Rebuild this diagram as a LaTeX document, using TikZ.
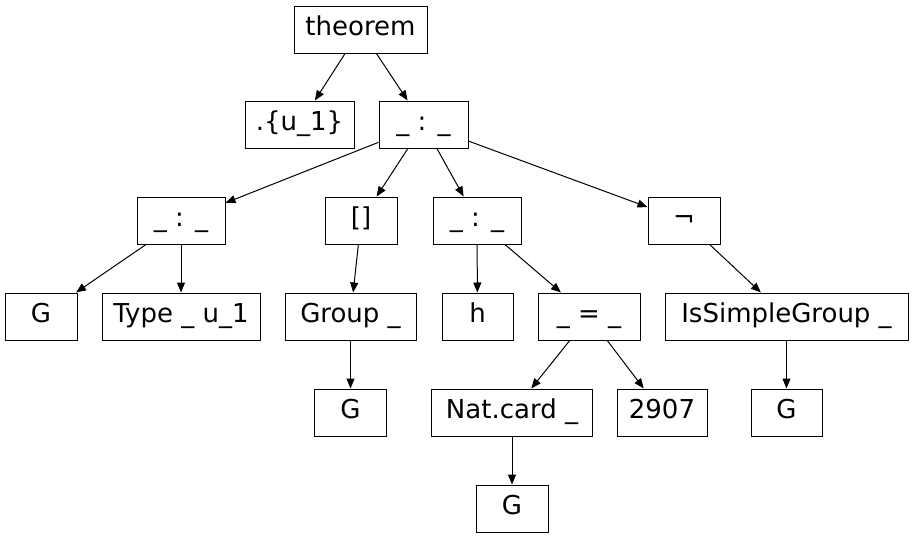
\documentclass[tikz,border=0pt]{standalone}
\usepackage{fontspec}
\setmainfont{DejaVu Sans}
\usetikzlibrary{arrows.meta}

\tikzset{box/.style={draw, inner sep=0pt, minimum height=35.25pt, minimum width=#1*0.75pt, text height=14pt, text depth=5.5pt, font=\fontsize{19.5}{23}\selectfont}}

\begin{document}
\begin{tikzpicture}[x=0.75pt,y=-0.75pt,line width=0.75pt]
\useasboundingbox (0,0) rectangle (914,539);

\node[box=133] (thm) at (360.5,29.5) {theorem};

\node[box=109] (univ) at (299.5,124.5) {.\{u\_1\}};
\node[box=89] (top) at (423.5,124.5) {\_ : \_};

\node[box=88] (left) at (181,220.5) {\_ : \_};
\node[box=72] (brk) at (361,220.5) {[]};
\node[box=88] (mid) at (477,220.5) {\_ : \_};
\node[box=72] (neg) at (684,220.5) {¬};

\node[box=72] (g1) at (41,316.5) {G};
\node[box=158] (type) at (181,316.5) {Type \_ u\_1};
\node[box=131] (grp) at (350.5,316.5) {Group \_};
\node[box=71] (h) at (477.5,316.5) {h};
\node[box=102] (eq) at (589,316.5) {\_ = \_};
\node[box=243] (simple) at (786.5,316.5) {IsSimpleGroup \_};

\node[box=72] (g2) at (350.5,412.5) {G};
\node[box=161] (card) at (512,412.5) {Nat.card \_};
\node[box=90] (num) at (662,412.5) {2907};
\node[box=71] (g3) at (786.5,412.5) {G};

\node[box=72] (g4) at (512,508.5) {G};

\draw[->,>={Triangle[length=7.5pt,width=6pt]}] (thm) edge (univ) (thm) edge (top)
  (top) edge (left) (top) edge (brk) (top) edge (mid) (top) edge (neg)
  (left) edge (g1) (left) edge (type) (brk) edge (grp) (mid) edge (h) (mid) edge (eq)
  (neg) edge (simple) (grp) edge (g2) (eq) edge (card) (eq) edge (num)
  (simple) edge (g3) (card) edge (g4);
\end{tikzpicture}
\end{document}
